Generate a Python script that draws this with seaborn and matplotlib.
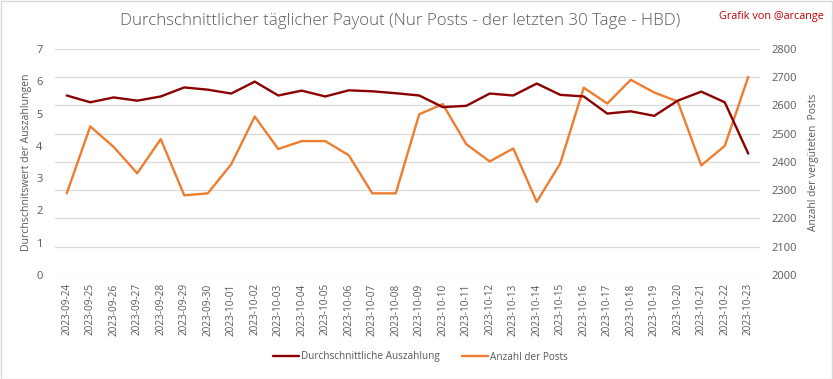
import matplotlib
matplotlib.use("Agg")
import matplotlib.pyplot as plt
import seaborn as sns
import pandas as pd
from matplotlib.patches import Rectangle

dates = ["2023-09-24", "2023-09-25", "2023-09-26", "2023-09-27", "2023-09-28",
         "2023-09-29", "2023-09-30", "2023-10-01", "2023-10-02", "2023-10-03",
         "2023-10-04", "2023-10-05", "2023-10-06", "2023-10-07", "2023-10-08",
         "2023-10-09", "2023-10-10", "2023-10-11", "2023-10-12", "2023-10-13",
         "2023-10-14", "2023-10-15", "2023-10-16", "2023-10-17", "2023-10-18",
         "2023-10-19", "2023-10-20", "2023-10-21", "2023-10-22", "2023-10-23"]
avg_payout = [5.56, 5.35, 5.50, 5.40, 5.53, 5.81, 5.74, 5.62, 5.99, 5.56,
              5.71, 5.53, 5.72, 5.69, 5.63, 5.56, 5.20, 5.24, 5.62, 5.56,
              5.93, 5.58, 5.53, 5.00, 5.07, 4.93, 5.40, 5.68, 5.35, 3.76]
num_posts = [2289, 2526, 2453, 2360, 2481, 2282, 2289, 2392, 2561, 2446,
             2474, 2474, 2424, 2289, 2289, 2569, 2605, 2463, 2402, 2448,
             2259, 2395, 2663, 2607, 2691, 2646, 2614, 2388, 2457, 2701]

label_payout = "Durchschnittliche Auszahlung"
label_posts = "Anzahl der Posts"
title = "Durchschnittlicher täglicher Payout (Nur Posts - der letzten 30 Tage - HBD)"
credit = "Grafik von @arcange"

df = pd.DataFrame({"date": dates, "payout": avg_payout, "posts": num_posts})

sns.set_theme(style="white")
plt.rcParams["font.family"] = ["Open Sans", "DejaVu Sans"]

c_red = "#8B0000"
c_orange = "#ED7D31"
c_text = "#595959"
c_grid = "#D9D9D9"

fig = plt.figure(figsize=(8.33, 3.79), dpi=100)
ax = fig.add_axes([55/833, 1 - 275/379, (760-55)/833, (275-49)/379])
ax2 = ax.twinx()

sns.lineplot(data=df, x="date", y="payout", ax=ax, color=c_red, linewidth=1.7,
             label=label_payout, legend=False, sort=False)
sns.lineplot(data=df, x="date", y="posts", ax=ax2, color=c_orange, linewidth=1.7,
             label=label_posts, legend=False, sort=False)

ax.set_zorder(ax2.get_zorder() + 1)
ax.patch.set_visible(False)

ax.set_xlim(-0.5, len(dates) - 0.5)
ax.set_ylim(0, 7)
ax.set_yticks(range(0, 8))
ax2.set_ylim(2000, 2800)
ax2.set_yticks(range(2000, 2801, 100))

ax.set_xticks(range(len(dates)))
ax.set_xticklabels(dates, rotation=90, fontsize=7.2, color=c_text)
ax.tick_params(axis="y", labelsize=8, colors=c_text, length=0, pad=9)
ax.tick_params(axis="x", length=0, pad=6)
ax2.tick_params(axis="y", labelsize=8, colors=c_text, length=0, pad=8)

ax2.yaxis.grid(True, color=c_grid, linewidth=0.9)
ax.yaxis.grid(False)
ax.xaxis.grid(False)
for a in (ax, ax2):
    for s in a.spines.values():
        s.set_visible(False)

ax.set_xlabel("")
ax.set_ylabel("Durchschnitswert der Auszahlungen", fontsize=7.6, color=c_text, labelpad=3)
ax2.set_ylabel("Anzahl der vergüteten  Posts", fontsize=7.4, color=c_text, labelpad=8)

fig.text(400/833, 1 - 21/379, title, ha="center", va="center", fontsize=12.2,
         color=c_text, fontweight="light")
fig.text(824/833, 1 - 17/379, credit, ha="right", va="center", fontsize=7.8, color="#C00000")

h1, l1 = ax.get_legend_handles_labels()
h2, l2 = ax2.get_legend_handles_labels()
fig.legend(h1 + h2, l1 + l2, loc="center", bbox_to_anchor=(420/833, 1 - 357/379),
           ncol=2, frameon=False, fontsize=7.2, handlelength=2.6, handletextpad=0.2,
           columnspacing=2.2, labelcolor=c_text)

fig.patches.append(Rectangle((0.5/833, 0.5/379), 1 - 1.5/833, 1 - 1.5/379,
                             transform=fig.transFigure, fill=False,
                             edgecolor="#D9D9D9", linewidth=1.0))

fig.savefig("out.png", dpi=100)
